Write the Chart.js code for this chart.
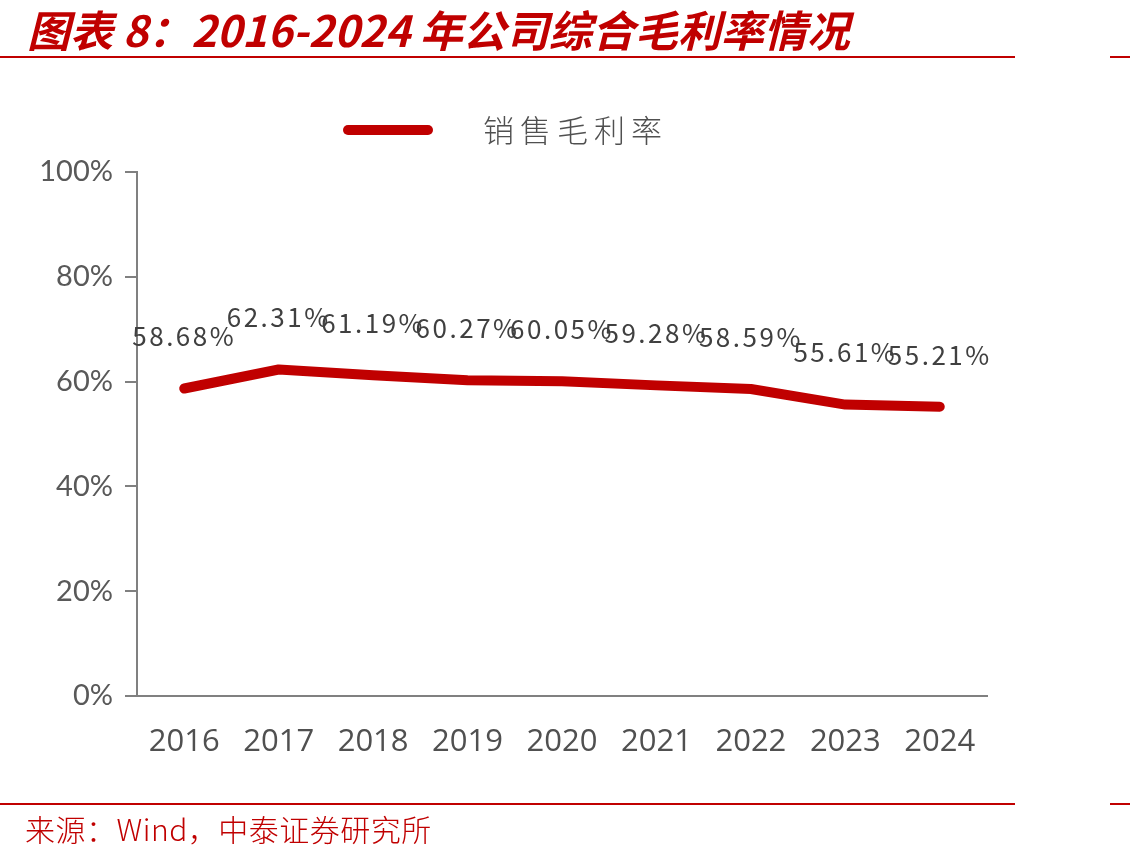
<!DOCTYPE html>
<html>
<head>
<meta charset="utf-8">
<script src="https://cdn.jsdelivr.net/npm/chart.js@4.4.1/dist/chart.umd.min.js"></script>
<style>
  html, body { margin: 0; padding: 0; background: #fff; }
  #wrap { position: relative; width: 1130px; height: 857px; overflow: hidden; }
  canvas { position: absolute; left: 0; top: 0; }
  .title { position: absolute; left: 27px; top: 2px; font-family: "Noto Sans CJK SC", sans-serif; font-weight: 700; font-style: italic; font-size: 43px; color: #C00000; white-space: nowrap; line-height: 52px; }
  .rule { position: absolute; height: 2px; background: #C00000; }
  .src { position: absolute; left: 25px; top: 808px; font-family: "Noto Sans CJK SC", sans-serif; font-size: 30px; letter-spacing: 0.5px; color: #C00000; white-space: nowrap; line-height: 40px; font-weight: 300; }
</style>
</head>
<body>
<div id="wrap">
  <canvas id="c" width="1130" height="857"></canvas>
  <div class="title">图表 8：2016-2024 年公司综合毛利率情况</div>
  <div class="rule" style="left:0;top:56px;width:1015px;"></div>
  <div class="rule" style="left:1110px;top:56px;width:20px;"></div>
  <div class="rule" style="left:0;top:803px;width:1015px;"></div>
  <div class="rule" style="left:1110px;top:803px;width:20px;"></div>
  <div class="src">来源：Wind，中泰证券研究所</div>
</div>
<script>
const categories = ["2016", "2017", "2018", "2019", "2020", "2021", "2022", "2023", "2024"];
const seriesName = "销售毛利率";
const grossMargin = [58.68, 62.31, 61.19, 60.27, 60.05, 59.28, 58.59, 55.61, 55.21];
const yTicks = [0, 20, 40, 60, 80, 100];

const labelPlugin = {
  id: 'valueLabels',
  afterDatasetsDraw(chart) {
    const ctx = chart.ctx;
    const meta = chart.getDatasetMeta(0);
    const ds = chart.data.datasets[0];
    ctx.save();
    ctx.font = '400 26px "Noto Sans CJK SC", sans-serif';
    if ('letterSpacing' in ctx) ctx.letterSpacing = '2.5px';
    ctx.fillStyle = '#404040';
    ctx.textAlign = 'center';
    ctx.textBaseline = 'middle';
    meta.data.forEach((pt, i) => {
      ctx.fillText(ds.data[i].toFixed(2) + '%', pt.x, pt.y - 52);
    });
    ctx.restore();
  }
};

const legendPlugin = {
  id: 'lineLegend',
  afterDraw(chart) {
    const ctx = chart.ctx;
    const ds = chart.data.datasets[0];
    ctx.save();
    ctx.strokeStyle = ds.borderColor;
    ctx.lineWidth = 10;
    ctx.lineCap = 'round';
    ctx.beginPath();
    ctx.moveTo(348, 130);
    ctx.lineTo(428, 130);
    ctx.stroke();
    ctx.font = '300 31px "Noto Sans CJK SC", sans-serif';
    if ('letterSpacing' in ctx) ctx.letterSpacing = '6px';
    ctx.fillStyle = '#505050';
    ctx.textAlign = 'left';
    ctx.textBaseline = 'middle';
    ctx.fillText(ds.label, 483, 130);
    ctx.restore();
  }
};

new Chart(document.getElementById('c'), {
  type: 'line',
  data: {
    labels: categories,
    datasets: [{
      label: seriesName,
      data: grossMargin,
      borderColor: '#C00000',
      backgroundColor: '#C00000',
      borderWidth: 10,
      borderCapStyle: 'round',
      borderJoinStyle: 'round',
      pointRadius: 0,
      pointHoverRadius: 0,
      tension: 0,
      fill: false
    }]
  },
  options: {
    responsive: false,
    animation: false,
    devicePixelRatio: 1,
    layout: { padding: { top: 172, right: 143, bottom: 0, left: 0 } },
    plugins: {
      legend: { display: false },
      tooltip: { enabled: false },
      title: { display: false }
    },
    scales: {
      x: {
        offset: true,
        grid: { display: false, drawTicks: false },
        border: { display: true, color: '#808080', width: 2 },
        ticks: {
          padding: 28,
          color: '#505050',
          font: { family: '"Open Sans", sans-serif', size: 31 },
          maxRotation: 0,
          autoSkip: false
        },
        afterFit(scale) { scale.height = 161; }
      },
      y: {
        min: 0,
        max: 100,
        afterBuildTicks(scale) { scale.ticks = yTicks.map(v => ({ value: v })); },
        grid: { drawOnChartArea: false, drawTicks: true, tickLength: 12, color: '#808080', lineWidth: 2 },
        border: { display: true, color: '#808080', width: 2 },
        ticks: {
          padding: 12,
          color: '#595959',
          font: { family: 'Lato, sans-serif', size: 29 },
          callback: v => v + '%'
        },
        afterFit(scale) { scale.width = 137; }
      }
    }
  },
  plugins: [labelPlugin, legendPlugin]
});
</script>
</body>
</html>
